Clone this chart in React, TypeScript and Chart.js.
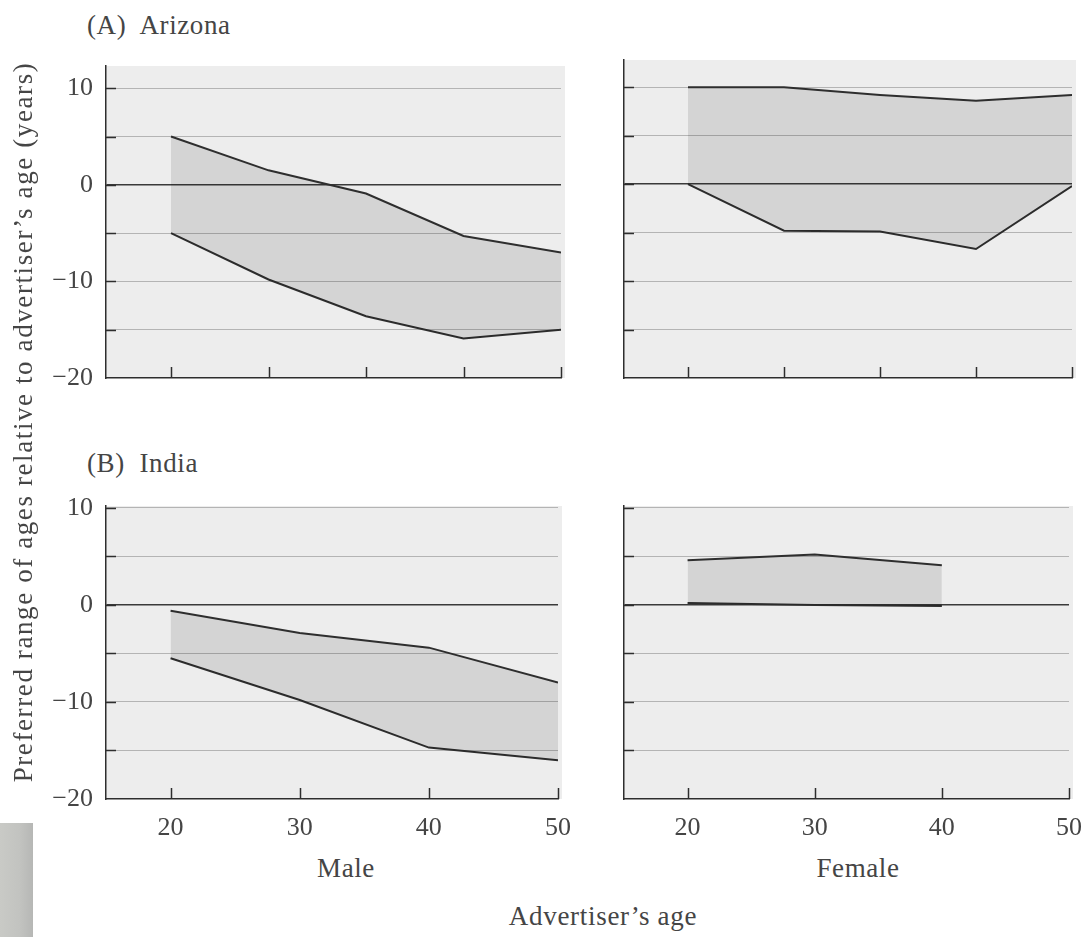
import React, { useEffect, useRef } from "react";
import { Chart, registerables } from "chart.js";

Chart.register(...registerables);

// ---- Data ----
const arizonaAges = [20, 27.5, 35, 42.5, 50];
const arizonaMaleUpper = [5, 1.5, -0.9, -5.3, -7];
const arizonaMaleLower = [-5, -9.8, -13.6, -15.9, -15];
const arizonaFemaleUpper = [10, 10, 9.2, 8.6, 9.2];
const arizonaFemaleLower = [0, -4.8, -4.9, -6.7, -0.2];

const indiaMaleAges = [20, 30, 40, 50];
const indiaMaleUpper = [-0.6, -2.9, -4.4, -8.0];
const indiaMaleLower = [-5.5, -9.8, -14.7, -16.0];
const indiaFemaleAges = [20, 30, 40];
const indiaFemaleUpper = [4.6, 5.2, 4.1];
const indiaFemaleLower = [0.2, 0, -0.1];

const xTicksArizona = [20, 27.5, 35, 42.5, 50];
const xTicksIndia = [20, 30, 40, 50];
const xLabelsIndia = ["20", "30", "40", "50"];
const yTickValues = [-20, -15, -10, -5, 0, 5, 10];
const yTickLabels = ["\u221220", "", "\u221210", "", "0", "", "10"];

const FONT = "'Liberation Serif', 'DejaVu Serif', serif";
const TEXT = "#454545";
const INK = "#2e2e2e";

const PAD_LEFT_AXIS = 70;
const PAD_TOP = 36;
const X_AXIS_H = 50;
const PAD_RIGHT = 24;

const bgPlugin = {
  id: "plotBg",
  beforeDraw(chart: any) {
    const { ctx, chartArea } = chart;
    ctx.save();
    ctx.fillStyle = "#ededed";
    ctx.fillRect(chartArea.left, chartArea.top, chartArea.right - chartArea.left + 4, chartArea.bottom - chartArea.top);
    ctx.restore();
  },
};

const inwardTicks = {
  id: "inwardTicks",
  afterDraw(chart: any) {
    const { ctx, chartArea, scales } = chart;
    ctx.save();
    ctx.strokeStyle = INK;
    ctx.lineWidth = 1.5;
    scales.y.ticks.forEach((t: any) => {
      if (t.value === -20) return;
      const y = Math.round(scales.y.getPixelForValue(t.value)) + 0.5;
      ctx.beginPath();
      ctx.moveTo(chartArea.left, y);
      ctx.lineTo(chartArea.left + 10, y);
      ctx.stroke();
    });
    scales.x.ticks.forEach((t: any) => {
      const x = Math.round(scales.x.getPixelForValue(t.value)) + 0.5;
      ctx.beginPath();
      ctx.moveTo(x, chartArea.bottom);
      ctx.lineTo(x, chartArea.bottom - 11);
      ctx.stroke();
    });
    ctx.restore();
  },
};

type PanelProps = {
  ages: number[];
  upper: number[];
  lower: number[];
  xTicks: number[];
  xLabels: string[] | null;
  showYLabels: boolean;
  yMax: number;
  box: { left: number; top: number; right: number; bottom: number };
};

function Panel({ ages, upper, lower, xTicks, xLabels, showYLabels, yMax, box }: PanelProps) {
  const ref = useRef<HTMLCanvasElement>(null);
  const width = PAD_LEFT_AXIS + (box.right - box.left) + PAD_RIGHT;
  const height = PAD_TOP + (box.bottom - box.top) + X_AXIS_H;

  useEffect(() => {
    if (!ref.current) return;
    const chart = new Chart(ref.current, {
      type: "line",
      data: {
        datasets: [
          {
            data: ages.map((a, i) => ({ x: a, y: upper[i] })),
            borderColor: INK,
            borderWidth: 2,
            pointRadius: 0,
            fill: "+1",
            backgroundColor: "rgba(0,0,0,0.10)",
            tension: 0,
          },
          {
            data: ages.map((a, i) => ({ x: a, y: lower[i] })),
            borderColor: INK,
            borderWidth: 2,
            pointRadius: 0,
            fill: false,
            tension: 0,
          },
        ],
      },
      options: {
        animation: false,
        responsive: false,
        maintainAspectRatio: false,
        layout: { padding: { left: 0, top: PAD_TOP, right: PAD_RIGHT, bottom: 0 } },
        plugins: { legend: { display: false }, tooltip: { enabled: false }, title: { display: false } },
        scales: {
          x: {
            type: "linear",
            min: 15,
            max: 50,
            afterBuildTicks: (s: any) => {
              s.ticks = xTicks.map((v) => ({ value: v }));
            },
            afterFit: (s: any) => {
              s.height = X_AXIS_H;
            },
            grid: { display: false, drawTicks: false },
            border: { display: true, color: INK, width: 1.5 },
            ticks: {
              display: !!xLabels,
              padding: 14,
              color: TEXT,
              font: { family: FONT, size: 26 },
              maxRotation: 0,
              autoSkip: false,
              callback: (v: any) => {
                const i = xTicks.indexOf(Number(v));
                return xLabels && i >= 0 ? xLabels[i] : "";
              },
            },
          },
          y: {
            type: "linear",
            min: -20,
            max: yMax,
            afterBuildTicks: (s: any) => {
              s.ticks = yTickValues.map((v) => ({ value: v }));
            },
            afterFit: (s: any) => {
              s.width = PAD_LEFT_AXIS;
            },
            grid: {
              drawTicks: false,
              color: (c: any) =>
                c.tick && c.tick.value === 0 ? "#3a3a3a" : c.tick && c.tick.value === -20 ? "rgba(0,0,0,0)" : "#b4b4b4",
              lineWidth: (c: any) => (c.tick && c.tick.value === 0 ? 1.6 : 1),
            },
            border: { display: true, color: INK, width: 1.5 },
            ticks: {
              display: showYLabels,
              padding: 13,
              color: TEXT,
              font: { family: FONT, size: 26 },
              autoSkip: false,
              callback: (v: any) => {
                const i = yTickValues.indexOf(Number(v));
                return i >= 0 ? yTickLabels[i] : "";
              },
            },
          },
        },
      },
      plugins: [bgPlugin, inwardTicks],
    } as any);
    return () => chart.destroy();
  }, []);

  return (
    <canvas
      ref={ref}
      width={width}
      height={height}
      style={{
        position: "absolute",
        left: box.left - PAD_LEFT_AXIS,
        top: box.top - PAD_TOP,
        width,
        height,
      }}
    />
  );
}

const label = (extra: React.CSSProperties): React.CSSProperties => ({
  position: "absolute",
  fontFamily: FONT,
  color: TEXT,
  whiteSpace: "nowrap",
  lineHeight: 1,
  fontSize: 27,
  letterSpacing: 0.6,
  ...extra,
});

export default function App() {
  return (
    <div
      style={{
        position: "absolute",
        left: 0,
        top: 0,
        width: 1090,
        height: 937,
        background: "#ffffff",
        overflow: "hidden",
      }}
    >
      <div style={label({ left: 87, top: 12 })}>(A)&nbsp; Arizona</div>
      <div style={label({ left: 87, top: 450 })}>(B)&nbsp; India</div>

      <Panel
        ages={arizonaAges}
        upper={arizonaMaleUpper}
        lower={arizonaMaleLower}
        xTicks={xTicksArizona}
        xLabels={null}
        showYLabels={true}
        yMax={12.3}
        box={{ left: 106, top: 66, right: 561, bottom: 378 }}
      />
      <Panel
        ages={arizonaAges}
        upper={arizonaFemaleUpper}
        lower={arizonaFemaleLower}
        xTicks={xTicksArizona}
        xLabels={null}
        showYLabels={false}
        yMax={12.8}
        box={{ left: 624, top: 60, right: 1072, bottom: 378 }}
      />
      <Panel
        ages={indiaMaleAges}
        upper={indiaMaleUpper}
        lower={indiaMaleLower}
        xTicks={xTicksIndia}
        xLabels={xLabelsIndia}
        showYLabels={true}
        yMax={10.2}
        box={{ left: 106, top: 506, right: 561, bottom: 799 }}
      />
      <Panel
        ages={indiaFemaleAges}
        upper={indiaFemaleUpper}
        lower={indiaFemaleLower}
        xTicks={xTicksIndia}
        xLabels={xLabelsIndia}
        showYLabels={false}
        yMax={10.2}
        box={{ left: 624, top: 506, right: 1072, bottom: 799 }}
      />

      <div style={label({ left: 346, top: 855, transform: "translateX(-50%)" })}>Male</div>
      <div style={label({ left: 858, top: 855, transform: "translateX(-50%)" })}>Female</div>
      <div style={label({ left: 603, top: 903, letterSpacing: 0.7, transform: "translateX(-50%)" })}>Advertiser’s age</div>
      <div
        style={label({
          left: 23,
          top: 422,
          letterSpacing: 1.6,
          transform: "translate(-50%, -50%) rotate(-90deg)",
        })}
      >
        Preferred range of ages relative to advertiser’s age (years)
      </div>
      <div
        style={{
          position: "absolute",
          left: 0,
          top: 823,
          width: 33,
          height: 114,
          background: "linear-gradient(90deg, #c9cac6, #c2c3c0 60%, #b6b7b5)",
        }}
      />
    </div>
  );
}
